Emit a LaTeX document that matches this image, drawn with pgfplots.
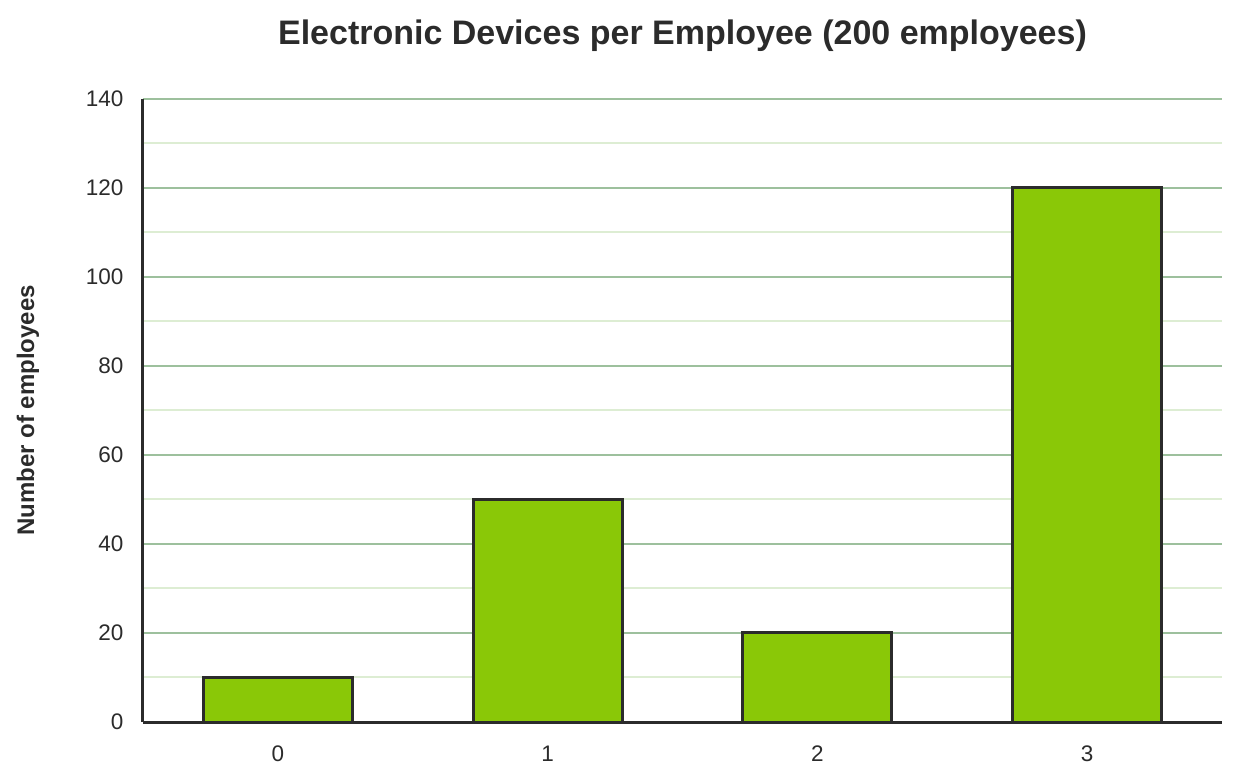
\documentclass[border=0pt]{standalone}
\usepackage{pgfplots}
\pgfplotsset{compat=1.18}
\usepackage{fontspec}
\setmainfont{Liberation Sans}
\definecolor{barfill}{HTML}{8AC807}
\definecolor{edge}{HTML}{2B2B2B}
\definecolor{majgrid}{HTML}{9DC09D}
\definecolor{mingrid}{HTML}{DDEDD3}
\begin{document}
\begin{tikzpicture}
\begin{axis}[
  scale only axis,
  width=1079pt, height=623pt,
  xmin=-0.5, xmax=3.5, ymin=0, ymax=140,
  axis x line*=bottom, axis y line*=left,
  axis line style={edge, line width=3pt, -},
  xtick={0,1,2,3}, xticklabels={0,1,2,3},
  ytick={0,20,...,140}, minor ytick={10,30,...,130},
  major tick length=0pt, minor tick length=0pt,
  ymajorgrids, yminorgrids,
  major grid style={majgrid, line width=2pt},
  minor grid style={mingrid, line width=2pt},
  tick label style={font=\fontsize{22.5}{26}\selectfont, text=edge},
  /pgf/number format/assume math mode=true,
  xticklabel style={yshift=-20pt},
  yticklabel style={xshift=-16pt},
  ylabel={\textbf{Number of employees}},
  ylabel style={font=\fontsize{24}{28}\selectfont, text=edge, at={(rel axis cs:0,0.5)}, anchor=center, yshift=115pt},
  title={\textbf{Electronic Devices per Employee (200 employees)}},
  title style={font=\fontsize{34}{40}\selectfont, text=edge, at={(rel axis cs:0.5,1)}, anchor=south, yshift=38pt},
  clip=false,
]
\addplot[ybar, bar width=149pt, fill=barfill, draw=edge, line width=3pt] coordinates {(0,10) (1,50) (2,20) (3,120)};
\end{axis}
\pgfresetboundingbox
\path[use as bounding box] (current axis.south west) ++(-143pt,-59pt) rectangle ++(1241pt,781pt);
\end{tikzpicture}
\end{document}
